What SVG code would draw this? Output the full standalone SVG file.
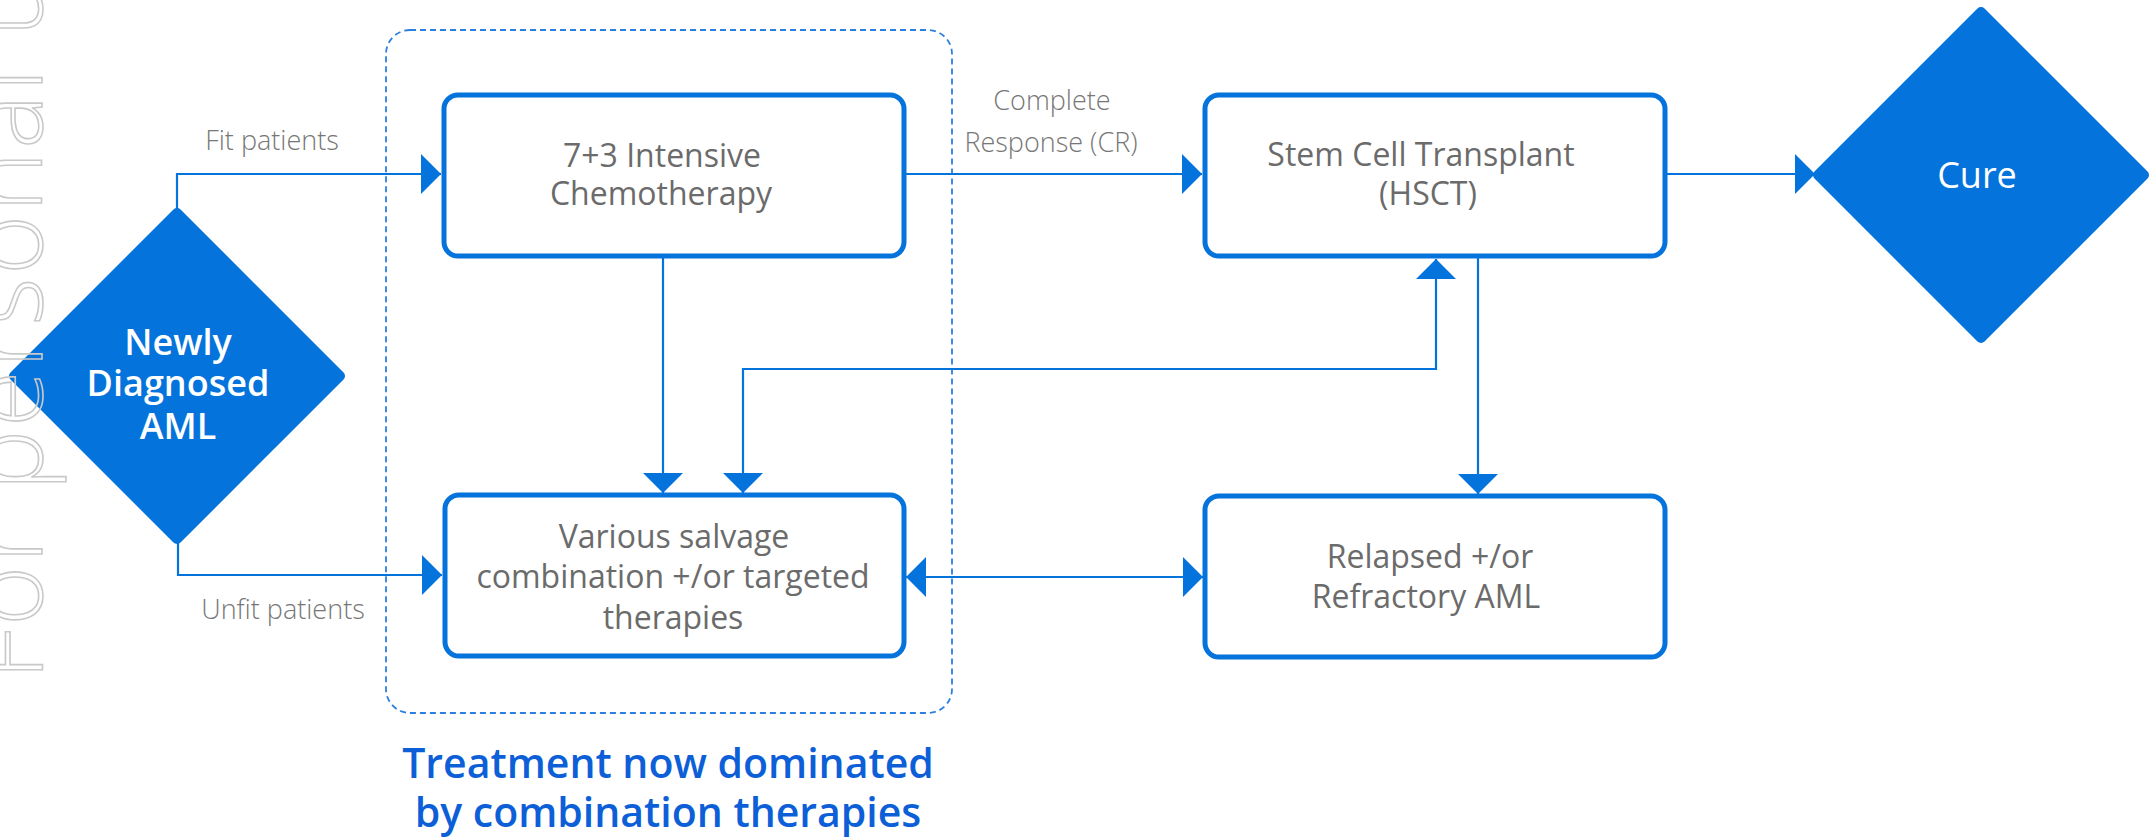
<svg xmlns="http://www.w3.org/2000/svg" width="2152" height="837" viewBox="0 0 2152 837">
  <style>
    .box { fill: #ffffff; stroke: #0573DC; stroke-width: 5; }
    .diamond { fill: #0573DC; stroke: #0573DC; stroke-width: 10; stroke-linejoin: round; }
    .conn { fill: none; stroke: #0573DC; stroke-width: 2.2; }
    .group { fill: none; stroke: #2C7FE0; stroke-width: 1.8; stroke-dasharray: 6 4; }
    .node-text { font-family: "Open Sans", "Liberation Sans", sans-serif; font-size: 32px; font-weight: 500; fill: #6B6B6B; text-anchor: middle; }
    .edge-label { font-family: "Open Sans", "Liberation Sans", sans-serif; font-size: 27px; font-weight: 300; fill: #777777; text-anchor: middle; }
    .diamond-text { font-family: "Open Sans", "Liberation Sans", sans-serif; font-size: 36px; font-weight: 600; fill: #ffffff; text-anchor: middle; }
    .caption { font-family: "Open Sans", "Liberation Sans", sans-serif; font-size: 41px; font-weight: 600; fill: #0D5FD8; text-anchor: middle; }
    .watermark { font-family: "Open Sans", "Liberation Sans", sans-serif; font-size: 102px; font-weight: 300; letter-spacing: 3px; fill: none; stroke: #C9C9C9; stroke-width: 1.6; }
  </style>
  <defs>
    <marker id="arrow" viewBox="0 0 20 40" refX="20" refY="20" markerWidth="20" markerHeight="40" markerUnits="userSpaceOnUse" orient="auto-start-reverse">
      <path d="M0,0 L20,20 L0,40 z" fill="#0573DC"/>
    </marker>
  </defs>

  <rect width="2152" height="837" fill="#ffffff"/>

  <!-- dashed grouping frame around the treatment boxes -->
  <g id="treatment-group">
    <rect class="group" x="386" y="30" width="566" height="683" rx="24"/>
    <text class="caption" x="668" y="778">Treatment now dominated</text>
    <text class="caption" x="668" y="827">by combination therapies</text>
  </g>

  <!-- connectors -->
  <g id="connectors">
    <path class="conn" d="M177,210 V174 H441" marker-end="url(#arrow)"/>
    <text class="edge-label" x="272" y="150">Fit patients</text>
    <path class="conn" d="M178,543 V575 H442" marker-end="url(#arrow)"/>
    <text class="edge-label" x="283" y="619">Unfit patients</text>
    <path class="conn" d="M663,257 V493" marker-end="url(#arrow)"/>
    <path class="conn" d="M904,174 H1202" marker-end="url(#arrow)"/>
    <text class="edge-label" x="1052" y="110">Complete</text>
    <text class="edge-label" x="1051" y="152">Response (CR)</text>
    <path class="conn" d="M1665,174 H1815" marker-end="url(#arrow)"/>
    <path class="conn" d="M743,493 V369 H1436 V259" marker-start="url(#arrow)" marker-end="url(#arrow)"/>
    <path class="conn" d="M1478,258 V494" marker-end="url(#arrow)"/>
    <path class="conn" d="M906,577 H1203" marker-start="url(#arrow)" marker-end="url(#arrow)"/>
  </g>

  <g id="newly-diagnosed">
    <polygon class="diamond" points="177,213 340,376 177,539 14,376"/>
    <text class="diamond-text" x="178" y="355">Newly</text>
    <text class="diamond-text" x="178" y="396">Diagnosed</text>
    <text class="diamond-text" x="178" y="439">AML</text>
  </g>

  <g id="intensive-chemo">
    <rect class="box" x="444" y="95" width="460" height="161" rx="14"/>
    <text class="node-text" x="662" y="167">7+3 Intensive</text>
    <text class="node-text" x="661" y="205">Chemotherapy</text>
  </g>

  <g id="salvage">
    <rect class="box" x="445" y="495" width="459" height="161" rx="14"/>
    <text class="node-text" x="674" y="548">Various salvage</text>
    <text class="node-text" x="673" y="588">combination +/or targeted</text>
    <text class="node-text" x="673" y="629">therapies</text>
  </g>

  <g id="hsct">
    <rect class="box" x="1205" y="95" width="460" height="161" rx="14"/>
    <text class="node-text" x="1421" y="166">Stem Cell Transplant</text>
    <text class="node-text" x="1428" y="205">(HSCT)</text>
  </g>

  <g id="relapsed">
    <rect class="box" x="1205" y="496" width="460" height="161" rx="14"/>
    <text class="node-text" x="1430" y="568">Relapsed +/or</text>
    <text class="node-text" x="1426" y="608">Refractory AML</text>
  </g>

  <g id="cure">
    <polygon class="diamond" points="1981,12 2144,175 1981,338 1818,175"/>
    <text class="diamond-text" x="1977" y="188" style="font-weight:500">Cure</text>
  </g>

  <!-- outlined vertical watermark along the left edge -->
  <text class="watermark" transform="translate(42,680) rotate(-90)">For personal use</text>
</svg>
